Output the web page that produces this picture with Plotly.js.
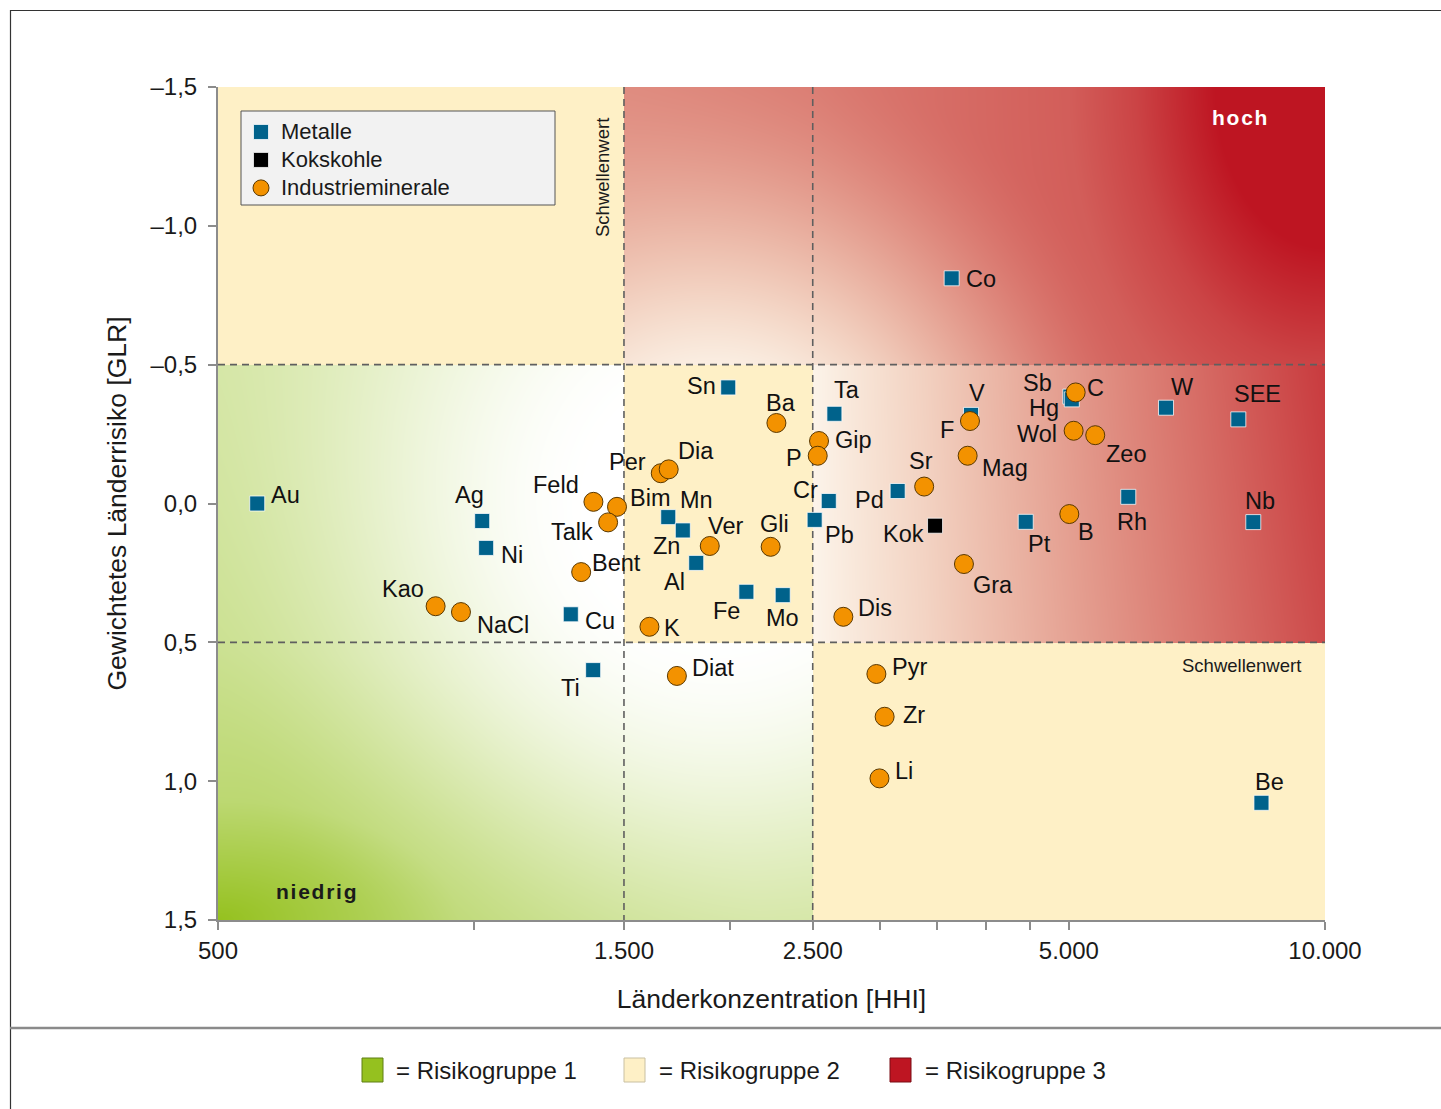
<!DOCTYPE html>
<html>
<head>
<meta charset="utf-8">
<script src="https://cdn.plot.ly/plotly-3.0.1.min.js"></script>
<style>html,body{margin:0;padding:0;background:#fff;}#chart{width:1441px;height:1109px;}</style>
</head>
<body>
<div id="chart"></div>
<script>
// ---------------- DATA ----------------
const metalNames = ['Au','Ag','Ni','Cu','Ti','Sn','Mn','Zn','Al','Fe','Mo','Ta','Cr','Pb','Pd','Co','V','Pt','Sb','Hg','W','Rh','SEE','Nb','Be'];
const metalHHI   = [556,1022,1033,1299,1380,1989,1691,1759,1824,2089,2305,2651,2611,2513,3146,3641,3837,4449,5020,5040,6503,5872,7909,8236,8420];
const metalGLR   = [0.00,0.063,0.160,0.399,0.600,-0.418,0.049,0.097,0.214,0.318,0.330,-0.323,-0.009,0.059,-0.045,-0.811,-0.319,0.066,-0.385,-0.375,-0.345,-0.024,-0.303,0.067,1.078];

const cokeNames = ['Kok'];
const cokeHHI   = [3481];
const cokeGLR   = [0.080];

const mineralNames = ['Kao','NaCl','Feld','Bim','Talk','Per','Dia','Bent','K','Diat','Ver','Gli','Ba','Gip','P','Dis','Pyr','Zr','Li','Sr','Mag','F','Gra','C','Wol','Zeo','B'];
const mineralHHI   = [901,965,1381,1472,1437,1657,1693,1336,1607,1731,1892,2231,2266,2543,2534,2716,2970,3037,2995,3380,3802,3826,3764,5093,5065,5370,5006];
const mineralGLR   = [0.370,0.391,-0.006,0.012,0.068,-0.109,-0.123,0.247,0.444,0.621,0.153,0.156,-0.290,-0.225,-0.172,0.408,0.614,0.768,0.990,-0.061,-0.172,-0.297,0.218,-0.400,-0.262,-0.246,0.038];

const seriesNames = ['Metalle','Kokskohle','Industrieminerale'];
const xThresholds = [1500, 2500];
const yThresholds = [-0.5, 0.5];
const xRange = [500, 10000];
const yRange = [-1.5, 1.5];
const xTickVals = [500,1000,1500,2000,2500,3000,3500,4000,4500,5000,10000];
const xTickText = ['500','','1.500','','2.500','','','','','5.000','10.000'];
const yTickVals = [-1.5,-1.0,-0.5,0,0.5,1.0,1.5];
const yTickText = ['\u20131,5','\u20131,0','\u20130,5','0,0','0,5','1,0','1,5'];
const groupLabels = ['= Risikogruppe 1','= Risikogruppe 2','= Risikogruppe 3'];

// ---------------- STYLE / POSITIONS ----------------
const FONT = 'Liberation Sans, Arial, Helvetica, sans-serif';
const W = 1441, H = 1109;
const M = {l:218, r:116, t:87, b:189};
const PW = W - M.l - M.r, PH = H - M.t - M.b;
const GREEN = [149,193,31], YELLOW = [254,240,198], RED = [190,21,34];

// label offsets in px (dx right, dy down) relative to the marker
const labelOffsets = {
  Au:[28,-9], Ag:[-13,-26], Ni:[26,7], Cu:[29,7], Ti:[-23,18], Sn:[-27,-1], Mn:[28,-17], Zn:[-16,16],
  Al:[-22,19], Fe:[-20,19], Mo:[0,23], Ta:[13,-24], Cr:[-23,-11], Pb:[25,15], Pd:[-28,9], Co:[29,1],
  V:[6,-22], Pt:[14,22], Sb:[-33,-14], Hg:[-28,9], W:[17,-21], Rh:[4,25], SEE:[19,-25], Nb:[7,-21],
  Be:[8,-21], Kok:[-32,8], Kao:[-33,-17], NaCl:[42,13], Feld:[-37,-17], Bim:[33,-9], Talk:[-36,10],
  Per:[-33,-11], Dia:[27,-18], Bent:[35,-9], K:[23,1], Diat:[36,-8], Ver:[16,-20], Gli:[4,-23],
  Ba:[5,-20], Gip:[34,-1], P:[-24,2], Dis:[32,-9], Pyr:[33,-7], Zr:[29,-2], Li:[25,-7], Sr:[-3,-26],
  Mag:[37,12], F:[-23,9], Gra:[29,21], C:[20,-4], Wol:[-37,3], Zeo:[31,19], B:[17,18]
};

// ---------------- BACKGROUND (gradient zones) ----------------
function interp(stops, d){
  if(d <= stops[0][0]) return stops[0][1];
  for(let i=1;i<stops.length;i++){
    if(d <= stops[i][0]){
      const a = stops[i-1], b = stops[i];
      return a[1] + (b[1]-a[1])*(d-a[0])/(b[0]-a[0]);
    }
  }
  return stops[stops.length-1][1];
}
function smooth(e0,e1,x){ let t=Math.min(1,Math.max(0,(x-e0)/(e1-e0))); return t*t*(3-2*t); }

function makeBackground(){
  const cv = document.createElement('canvas');
  cv.width = PW; cv.height = PH;
  const ctx = cv.getContext('2d');
  const im = ctx.createImageData(PW, PH);
  const lx0 = Math.log10(xRange[0]), lx1 = Math.log10(xRange[1]);
  const toCX = v => (Math.log10(v)-lx0)/(lx1-lx0)*PW;
  const toCY = v => (v - yRange[0])/(yRange[1]-yRange[0])*PH;
  const xa = toCX(xThresholds[0]), xb = toCX(xThresholds[1]);
  const ya = toCY(yThresholds[0]), yb = toCY(yThresholds[1]);
  const gx = (xa+xb)/2, gy = (ya+yb)/2;
  const topStops = [[0,1],[110,1],[190,0.8],[256,0.69],[513,0.56],[701,0.5],[1000,0.45]];
  const lowFx = [[0,0.84],[128,0.63],[256,0.43],[400,0.2],[513,0.05],[700,0]];
  const greenStops = [[0,1],[120,0.63],[270,0.5],[560,0.4],[1000,0.35]];
  const mixG = t=>[255+(GREEN[0]-255)*t, 255+(GREEN[1]-255)*t, 255+(GREEN[2]-255)*t];
  const mixR = t=>[255+(RED[0]-255)*t, 255+(RED[1]-255)*t, 255+(RED[2]-255)*Math.pow(t,0.78)];
  for(let cy=0; cy<PH; cy++){
    for(let cx=0; cx<PW; cx++){
      const col = cx < xa ? 0 : (cx < xb ? 1 : 2);
      const row = cy < ya ? 0 : (cy < yb ? 1 : 2);
      const s = Math.hypot(cx-gx, cy-gy);
      let c;
      if((col===0 && row>=1) || (col===1 && row===2)){
        const d = Math.hypot(0.5*cx, PH - cy);
        c = mixG(interp(greenStops, d) * smooth(120, 560, s));
      } else if((col===0 && row===0) || (col===1 && row===1) || (col===2 && row===2)){
        c = YELLOW;
      } else if(row===0){
        const d = Math.hypot(PW - cx, 0.685*cy);
        c = mixR(interp(topStops, d) * smooth(40, 460, s));
      } else {
        const v = (cy - ya)/(yb - ya);
        c = mixR(interp(lowFx, PW - cx) * (1 - 0.08*v));
      }
      const k = (cy*PW + cx)*4;
      im.data[k]=c[0]; im.data[k+1]=c[1]; im.data[k+2]=c[2]; im.data[k+3]=255;
    }
  }
  ctx.putImageData(im,0,0);
  return cv.toDataURL('image/png');
}

// ---------------- TRACES ----------------
const legendName = n => '<span style="font-size:22px">' + n + '</span>';
const thresholdTrace = {
  type:'scatter', mode:'lines', showlegend:false, hoverinfo:'skip',
  x:[xThresholds[0],xThresholds[0],null,xThresholds[1],xThresholds[1],null,xRange[0],xRange[1],null,xRange[0],xRange[1]],
  y:[yRange[0],yRange[1],null,yRange[0],yRange[1],null,yThresholds[0],yThresholds[0],null,yThresholds[1],yThresholds[1]],
  line:{color:'#5f5f5f', width:1.6, dash:'7px,5px'}
};
const metalTrace = {
  type:'scatter', mode:'markers', name:legendName(seriesNames[0]), x:metalHHI, y:metalGLR, text:metalNames,
  marker:{symbol:'square', size:15, color:'#00628B', line:{color:'rgba(255,255,255,0.75)', width:1}}
};
const cokeTrace = {
  type:'scatter', mode:'markers', name:legendName(seriesNames[1]), x:cokeHHI, y:cokeGLR, text:cokeNames,
  marker:{symbol:'square', size:15, color:'#000000', line:{color:'rgba(255,255,255,0.75)', width:1}}
};
const mineralTrace = {
  type:'scatter', mode:'markers', name:legendName(seriesNames[2]), x:mineralHHI, y:mineralGLR, text:mineralNames,
  marker:{symbol:'circle', size:19, color:'#F39200', line:{color:'#5a3800', width:1}}
};

// ---------------- ANNOTATIONS ----------------
const annotations = [];
function addLabels(names, xs, ys){
  names.forEach((n,i)=>{
    const off = labelOffsets[n] || [20,0];
    annotations.push({
      x:Math.log10(xs[i]), y:ys[i], xref:'x', yref:'y', text:n, showarrow:false,
      xanchor:'center', yanchor:'middle', xshift:off[0], yshift:-off[1],
      font:{family:FONT, size:23.5, color:'#111'}
    });
  });
}
addLabels(metalNames, metalHHI, metalGLR);
addLabels(cokeNames, cokeHHI, cokeGLR);
addLabels(mineralNames, mineralHHI, mineralGLR);

const px = v => (v - M.l)/PW;      // page px -> paper x
const py = v => (M.t + PH - v)/PH; // page px -> paper y

annotations.push(
  {xref:'paper', yref:'paper', x:px(603), y:py(178), text:'Schwellenwert', textangle:-90, showarrow:false,
   xanchor:'center', yanchor:'middle', font:{family:FONT, size:18.5, color:'#1a1a1a'}},
  {xref:'paper', yref:'paper', x:px(1241), y:py(665), text:'Schwellenwert', showarrow:false,
   xanchor:'center', yanchor:'middle', font:{family:FONT, size:18.5, color:'#1a1a1a'}},
  {xref:'paper', yref:'paper', x:px(1239), y:py(118), text:'<b>h\u200Ao\u200Ac\u200Ah</b>', showarrow:false,
   xanchor:'center', yanchor:'middle', font:{family:FONT, size:21, color:'#ffffff'}},
  {xref:'paper', yref:'paper', x:px(316), y:py(891), text:'<b>n\u200Ai\u200Ae\u200Ad\u200Ar\u200Ai\u200Ag</b>', showarrow:false,
   xanchor:'center', yanchor:'middle', font:{family:FONT, size:21, color:'#1a1a1a'}}
);
const groupTextX = [394, 657, 923];
groupLabels.forEach((t,i)=>{
  annotations.push({xref:'paper', yref:'paper', x:px(groupTextX[i]), y:py(1070), text:t, showarrow:false,
    xanchor:'left', yanchor:'middle', font:{family:FONT, size:24, color:'#1a1a1a'}});
});

// ---------------- SHAPES ----------------
const shapes = [
  {type:'rect', xref:'paper', yref:'paper', x0:px(241), x1:px(555), y0:py(205), y1:py(111),
   fillcolor:'#F2F2F2', line:{color:'#555', width:1}, layer:'above'},
  {type:'line', xref:'paper', yref:'paper', x0:px(10), x1:px(1441), y0:py(10.5), y1:py(10.5), line:{color:'#333', width:1.2}},
  {type:'line', xref:'paper', yref:'paper', x0:px(10.5), x1:px(10.5), y0:py(10), y1:py(1109), line:{color:'#333', width:1.2}},
  {type:'line', xref:'paper', yref:'paper', x0:px(10), x1:px(1441), y0:py(1028), y1:py(1028), line:{color:'#8a8a8a', width:2.5}}
];
const groupSquares = [[362, GREEN, '#5f7f14'], [624, YELLOW, '#c9c0a2'], [890, RED, '#7a0c14']];
groupSquares.forEach(g=>{
  shapes.push({type:'rect', xref:'paper', yref:'paper', x0:px(g[0]), x1:px(g[0]+21), y0:py(1082), y1:py(1058),
    fillcolor:'rgb('+g[1].join(',')+')', line:{color:g[2], width:1}});
});

// ---------------- LAYOUT ----------------
const layout = {
  width:W, height:H, margin:M,
  paper_bgcolor:'#ffffff', plot_bgcolor:'rgba(0,0,0,0)',
  font:{family:FONT, color:'#1a1a1a'},
  showlegend:true,
  legend:{x:px(241), y:py(113), xanchor:'left', yanchor:'top', bgcolor:'rgba(0,0,0,0)', borderwidth:0,
    font:{family:FONT, size:19.2, color:'#1a1a1a'}, tracegroupgap:0},
  xaxis:{type:'log', range:[Math.log10(xRange[0]), Math.log10(xRange[1])], autorange:false,
    tickmode:'array', tickvals:xTickVals, ticktext:xTickText, ticks:'outside', ticklen:8, tickwidth:2, tickcolor:'#8c8c8c',
    showline:true, linecolor:'#8c8c8c', linewidth:2, showgrid:false, zeroline:false,
    tickfont:{family:FONT, size:24, color:'#1a1a1a'}, ticklabelstandoff:0,
    title:{text:'Länderkonzentration [HHI]', font:{family:FONT, size:26.5, color:'#1a1a1a'}, standoff:27}},
  yaxis:{range:[yRange[1], yRange[0]], autorange:false,
    tickmode:'array', tickvals:yTickVals, ticktext:yTickText, ticks:'outside', ticklen:8, tickwidth:2, tickcolor:'#8c8c8c',
    showline:true, linecolor:'#8c8c8c', linewidth:2, showgrid:false, zeroline:false,
    tickfont:{family:FONT, size:24, color:'#1a1a1a'}, ticklabelstandoff:6,
    title:{text:'Gewichtetes Länderrisiko [GLR]', font:{family:FONT, size:26.5, color:'#1a1a1a'}, standoff:16}},
  images:[{source:makeBackground(), xref:'paper', yref:'paper', x:0, y:1, sizex:1, sizey:1,
    sizing:'stretch', xanchor:'left', yanchor:'top', layer:'below'}],
  shapes:shapes,
  annotations:annotations
};

Plotly.newPlot('chart', [thresholdTrace, metalTrace, cokeTrace, mineralTrace], layout, {staticPlot:true, displayModeBar:false});
</script>
</body>
</html>
